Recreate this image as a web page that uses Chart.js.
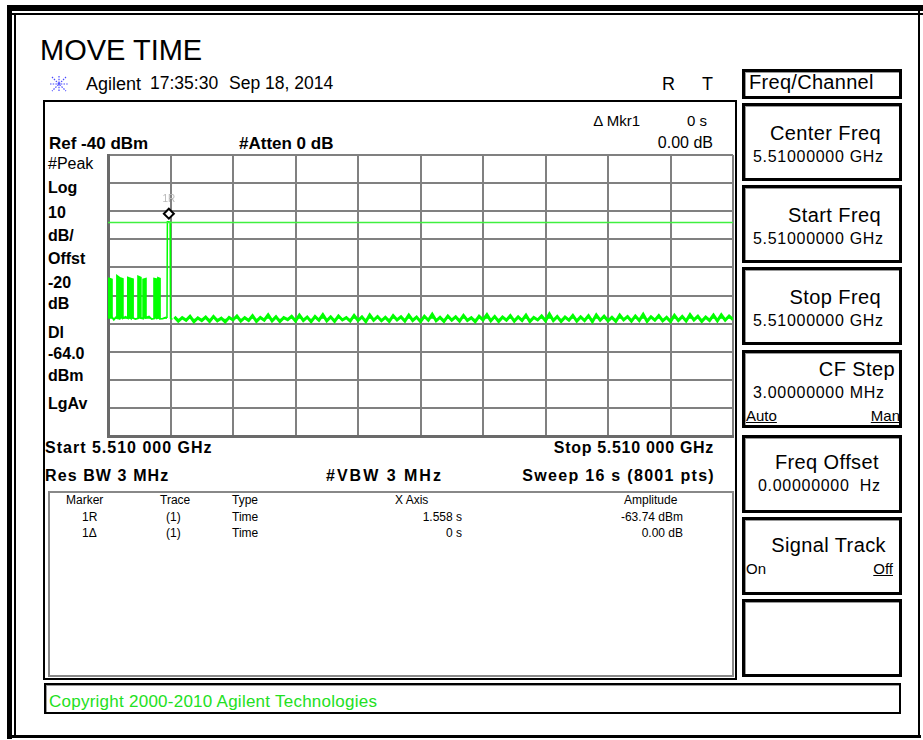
<!DOCTYPE html>
<html lang="en">
<head>
<meta charset="UTF-8" />
<title>MOVE TIME</title>
<script src="https://cdn.jsdelivr.net/npm/chart.js"></script>
<style>
    body { margin: 0; background: #fff; }
    #tela { position: relative; width: 923px; height: 740px; overflow: hidden;
            font-family: 'Liberation Sans', Arial, sans-serif; color: #000; }
    .t { position: absolute; line-height: 1; white-space: pre; }
    .b { font-weight: bold; }
    .caixa { position: absolute; box-sizing: border-box; }
    .tecla { position: absolute; box-sizing: border-box; left: 742px; width: 160px;
             border: 3px solid #000; box-shadow: inset 1px 1px 0 #999; }
    .tit { font-size: 20px; letter-spacing: 0.4px; }
    .val { font-size: 16px; letter-spacing: 0.7px; }
    .tab { font-size: 12px; }
    u { text-decoration: underline; }
</style>
</head>
<body>
<div id="tela">
    <!-- moldura externa -->
    <div class="caixa" style="left:7px;top:5px;width:916px;height:6px;background:#000"></div>
    <div class="caixa" style="left:7px;top:13px;width:916px;height:2px;background:#000"></div>
    <div class="caixa" style="left:7px;top:5px;width:5px;height:734px;background:#000"></div>
    <div class="caixa" style="left:14px;top:13px;width:2px;height:722px;background:#000"></div>
    <div class="caixa" style="left:7px;top:735px;width:914px;height:3px;background:#000"></div>
    <div class="caixa" style="left:918px;top:5px;width:2px;height:733px;background:#000"></div>

    <div class="t" style="left:40px;top:36px;font-size:29px">MOVE TIME</div>
    <svg style="position:absolute;left:49px;top:75px" width="20" height="18">
        <g stroke="#4a4aff" stroke-width="1.2" stroke-dasharray="1.5 1.2">
            <line x1="10" y1="1" x2="10" y2="17" />
            <line x1="1" y1="9" x2="19" y2="9" />
            <line x1="3" y1="2" x2="17" y2="16" />
            <line x1="17" y1="2" x2="3" y2="16" />
        </g>
    </svg>
    <div class="t" style="left:86px;top:75px;font-size:18px">Agilent</div>
    <div class="t" style="left:150px;top:75px;font-size:17.5px">17:35:30</div>
    <div class="t" style="left:229px;top:75px;font-size:17.5px">Sep 18, 2014</div>
    <div class="t" style="left:662px;top:75px;font-size:18px">R</div>
    <div class="t" style="left:702px;top:75px;font-size:18px">T</div>

    <!-- painel do gráfico -->
    <div class="caixa" style="left:43px;top:100px;width:694px;height:580px;border:2px solid #000"></div>
    <div class="t" style="right:283px;top:113px;font-size:15px">&#916; Mkr1</div>
    <div class="t" style="right:216px;top:113px;font-size:15px">0 s</div>
    <div class="t" style="right:210px;top:135px;font-size:16px">0.00 dB</div>
    <div class="t b" style="left:49px;top:135px;font-size:17px">Ref -40 dBm</div>
    <div class="t b" style="left:239px;top:135px;font-size:17px">#Atten 0 dB</div>

    <div class="t" style="left:48px;top:156px;font-size:16px">#Peak</div>
    <div class="t b" style="left:48px;top:180px;font-size:16px">Log</div>
    <div class="t b" style="left:48px;top:205px;font-size:16px">10</div>
    <div class="t b" style="left:48px;top:228px;font-size:16px">dB/</div>
    <div class="t b" style="left:48px;top:251px;font-size:16px">Offst</div>
    <div class="t b" style="left:48px;top:275px;font-size:16px">-20</div>
    <div class="t b" style="left:48px;top:296px;font-size:16px">dB</div>
    <div class="t b" style="left:48px;top:325px;font-size:16px">Dl</div>
    <div class="t b" style="left:48px;top:346px;font-size:16px">-64.0</div>
    <div class="t b" style="left:48px;top:368px;font-size:16px">dBm</div>
    <div class="t b" style="left:48px;top:396px;font-size:16px">LgAv</div>

    <canvas id="grafico" width="629" height="285" style="position:absolute;left:106px;top:153px"></canvas>

    <div class="t b" style="left:45px;top:440px;font-size:16px;letter-spacing:1px">Start 5.510 000 GHz</div>
    <div class="t b" style="right:209px;top:440px;font-size:16px;letter-spacing:0.7px">Stop 5.510 000 GHz</div>
    <div class="t b" style="left:45px;top:468px;font-size:16px;letter-spacing:1.1px">Res BW 3 MHz</div>
    <div class="t b" style="left:326px;top:468px;font-size:16px;letter-spacing:2px">#VBW 3 MHz</div>
    <div class="t b" style="right:208px;top:468px;font-size:16px;letter-spacing:1.3px">Sweep 16 s (8001 pts)</div>

    <!-- tabela de marcadores -->
    <div class="caixa" style="left:48px;top:491px;width:686px;height:186px;border:2px solid #888"></div>
    <div class="t tab" style="left:66px;top:494px">Marker</div>
    <div class="t tab" style="left:160px;top:494px">Trace</div>
    <div class="t tab" style="left:232px;top:494px">Type</div>
    <div class="t tab" style="left:395px;top:494px">X Axis</div>
    <div class="t tab" style="left:624px;top:494px">Amplitude</div>
    <div class="t tab" style="left:82px;top:511px">1R</div>
    <div class="t tab" style="left:166px;top:511px">(1)</div>
    <div class="t tab" style="left:232px;top:511px">Time</div>
    <div class="t tab" style="right:461px;top:511px">1.558 s</div>
    <div class="t tab" style="right:240px;top:511px">-63.74 dBm</div>
    <div class="t tab" style="left:82px;top:527px">1&#916;</div>
    <div class="t tab" style="left:166px;top:527px">(1)</div>
    <div class="t tab" style="left:232px;top:527px">Time</div>
    <div class="t tab" style="right:461px;top:527px">0 s</div>
    <div class="t tab" style="right:240px;top:527px">0.00 dB</div>

    <!-- teclas -->
    <div class="tecla" style="top:69px;height:30px"></div>
    <div class="t tit" style="left:749px;top:72px;letter-spacing:0.3px">Freq/Channel</div>
    <div class="tecla" style="top:103px;height:78px"></div>
    <div class="t tit" style="right:42px;top:123px">Center Freq</div>
    <div class="t val" style="left:753px;top:149px">5.51000000 GHz</div>
    <div class="tecla" style="top:185px;height:78px"></div>
    <div class="t tit" style="right:42px;top:205px">Start Freq</div>
    <div class="t val" style="left:753px;top:231px">5.51000000 GHz</div>
    <div class="tecla" style="top:267px;height:78px"></div>
    <div class="t tit" style="right:42px;top:287px">Stop Freq</div>
    <div class="t val" style="left:753px;top:313px">5.51000000 GHz</div>
    <div class="tecla" style="top:350px;height:78px"></div>
    <div class="t tit" style="right:28px;top:359px">CF Step</div>
    <div class="t val" style="left:753px;top:385px">3.00000000 MHz</div>
    <div class="t val" style="left:746px;top:408px;font-size:15px;letter-spacing:0"><u>Auto</u></div>
    <div class="t val" style="right:23px;top:408px;font-size:15px;letter-spacing:0"><u>Man</u></div>
    <div class="tecla" style="top:435px;height:78px"></div>
    <div class="t tit" style="right:44px;top:452px">Freq Offset</div>
    <div class="t val" style="left:758px;top:478px">0.00000000&nbsp; Hz</div>
    <div class="tecla" style="top:517px;height:78px"></div>
    <div class="t tit" style="right:37px;top:535px">Signal Track</div>
    <div class="t val" style="left:746px;top:561px;font-size:15px;letter-spacing:0">On</div>
    <div class="t val" style="right:30px;top:561px;font-size:15px;letter-spacing:0"><u>Off</u></div>
    <div class="tecla" style="top:599px;height:78px"></div>

    <div class="caixa" style="left:44px;top:683px;width:857px;height:31px;border:2px solid #000;box-shadow:inset 1px 1px 0 #999"></div>
    <div class="t" style="left:49px;top:693px;font-size:17px;letter-spacing:0.25px;color:#22e022">Copyright 2000-2010 Agilent Technologies</div>
</div>

<script>
    // eixo: tempo de varredura (s) x amplitude (dBm)
    const tempoInicio = 0;
    const tempoFim = 16;
    const refNivel = -40;
    const fundoEscala = -140;
    const linhaDisplay = -64.0;
    const nivelRuido = -98.3;

    const marcadorTempo = 1.558;
    const marcadorAmp = -63.74;

    // rajadas do inicio da varredura (tempo s, amplitude dBm)
    const pulsoTempo = [0, 0.10, 0.10, 0.15, 0.20, 0.23, 0.23, 0.28, 0.28, 0.30,
        0.31, 0.31, 0.38, 0.38, 0.45, 0.51, 0.51, 0.56, 0.56, 0.59, 0.59, 0.64, 0.64, 0.70,
        0.77, 0.77, 0.84, 0.84, 0.90, 0.90, 0.97, 0.97, 1.05, 1.12,
        1.18, 1.18, 1.25, 1.25, 1.28, 1.28, 1.33, 1.33, 1.40, 1.48, 1.51];
    const pulsoAmp = [-83.8, -84.3, -97.6, -98.6, -97.8, -98.0, -83.0, -83.5, -98.2, -98.3,
        -98.0, -83.8, -84.1, -98.1, -97.6, -98.1, -83.6, -83.9, -97.9, -98.2, -84.0, -84.2, -98.0, -98.4,
        -98.1, -83.2, -83.6, -98.0, -98.2, -84.3, -84.0, -97.9, -97.5, -98.4,
        -98.2, -84.0, -84.2, -98.1, -98.0, -83.7, -84.0, -98.3, -98.2, -97.8, -98.0];

    // subida até o marcador 1R
    const picoTempo = [1.51, 1.52, 1.558, 1.59, 1.60, 1.65];
    const picoAmp = [-98.0, -63.74, -63.74, -63.9, -98.1, -98.5];

    // ruído de fundo depois do marcador, um valor a cada 0,1 s de 1,7 s a 16 s
    const ruidoInicio = 1.7;
    const ruidoPasso = 0.1;
    const ruidoAmp = [
        -97.6, -99.1, -97.9, -98.8, -97.4, -99.3, -98.0, -98.9, -97.7, -99.2,
        -97.5, -99.0, -98.1, -99.4, -97.8, -98.7, -97.3, -99.1, -97.9, -98.9,
        -97.2, -99.2, -97.8, -98.8, -96.9, -99.0, -97.6, -99.3, -97.9, -98.6,
        -97.4, -99.1, -97.0, -98.9, -97.7, -99.3, -97.5, -98.8, -96.8, -99.0,
        -97.6, -99.2, -97.3, -98.7, -97.9, -99.1, -97.1, -98.9, -97.6, -99.3,
        -96.9, -98.8, -97.5, -99.0, -97.8, -99.2, -97.2, -98.7, -97.6, -99.1,
        -97.0, -98.9, -97.7, -99.3, -97.4, -98.8, -96.7, -99.0, -97.8, -99.2,
        -97.3, -98.8, -97.6, -99.1, -97.1, -98.9, -97.9, -99.3, -97.4, -98.7,
        -96.8, -99.0, -97.5, -99.2, -97.7, -98.8, -97.2, -99.1, -97.6, -98.9,
        -97.0, -99.3, -97.8, -98.7, -97.3, -99.0, -96.6, -98.9, -97.5, -99.2,
        -97.7, -98.8, -97.1, -99.1, -97.6, -98.9, -97.2, -99.3, -96.9, -98.8,
        -97.4, -99.0, -97.8, -99.2, -97.0, -98.7, -97.5, -99.1, -97.3, -98.9,
        -96.7, -99.2, -97.6, -98.8, -97.2, -99.0, -97.8, -99.3, -97.1, -98.9,
        -97.5, -99.1, -96.8, -98.7, -97.4, -99.2, -97.7, -98.9, -97.0, -99.0,
        -96.9, -98.8, -97.3, -98.6
    ];

    function juntar(tempos, amps) {
        let pts = [];
        for (let i = 0; i < tempos.length; i++) {
            pts.push({ x: tempos[i], y: amps[i] });
        }
        return pts;
    }

    let pulsos = juntar(pulsoTempo, pulsoAmp);
    let pico = juntar(picoTempo, picoAmp);
    let ruido = [];
    for (let i = 0; i < ruidoAmp.length; i++) {
        ruido.push({ x: ruidoInicio + i * ruidoPasso, y: ruidoAmp[i] });
    }

    // desenha o losango do marcador e o rótulo 1R
    const pluginMarcador = {
        id: 'marcador',
        afterDatasetsDraw(chart) {
            const ctx = chart.ctx;
            const px = chart.scales.x.getPixelForValue(marcadorTempo);
            const py = chart.scales.y.getPixelForValue(marcadorAmp) - 8;
            ctx.save();
            ctx.beginPath();
            ctx.moveTo(px, py - 5);
            ctx.lineTo(px + 5, py);
            ctx.lineTo(px, py + 5);
            ctx.lineTo(px - 5, py);
            ctx.closePath();
            ctx.fillStyle = '#fff';
            ctx.fill();
            ctx.lineWidth = 2;
            ctx.strokeStyle = '#000';
            ctx.stroke();
            ctx.fillStyle = '#b8b8b8';
            ctx.font = '10px "Liberation Sans", Arial';
            ctx.textAlign = 'center';
            ctx.fillText('1R', px, py - 12);
            ctx.restore();
        }
    };

    const verde = '#00ff00';
    const config = {
        type: 'line',
        data: {
            datasets: [
                {
                    data: [{ x: tempoInicio, y: linhaDisplay }, { x: tempoFim, y: linhaDisplay }],
                    borderColor: '#40f040',
                    borderWidth: 1.5,
                    pointRadius: 0
                },
                {
                    data: pulsos,
                    borderColor: verde,
                    borderWidth: 1.8,
                    pointRadius: 0,
                    fill: { target: { value: nivelRuido }, above: verde, below: verde }
                },
                {
                    data: pico,
                    borderColor: verde,
                    borderWidth: 1.5,
                    pointRadius: 0
                },
                {
                    data: ruido,
                    borderColor: verde,
                    borderWidth: 3,
                    pointRadius: 0,
                    fill: { target: { value: nivelRuido }, above: verde, below: verde }
                }
            ]
        },
        options: {
            animation: false,
            responsive: false,
            layout: { padding: 2 },
            plugins: {
                legend: { display: false },
                tooltip: { enabled: false }
            },
            scales: {
                x: {
                    type: 'linear',
                    min: tempoInicio,
                    max: tempoFim,
                    ticks: { display: false, count: 11 },
                    grid: { color: '#808080', lineWidth: 2, drawTicks: false },
                    border: { color: '#6a6a6a', width: 3 }
                },
                y: {
                    min: fundoEscala,
                    max: refNivel,
                    ticks: { display: false, count: 11 },
                    grid: { color: '#808080', lineWidth: 2, drawTicks: false },
                    border: { color: '#6a6a6a', width: 3 }
                }
            }
        },
        plugins: [pluginMarcador]
    };

    new Chart(document.getElementById('grafico'), config);
</script>
</body>
</html>
